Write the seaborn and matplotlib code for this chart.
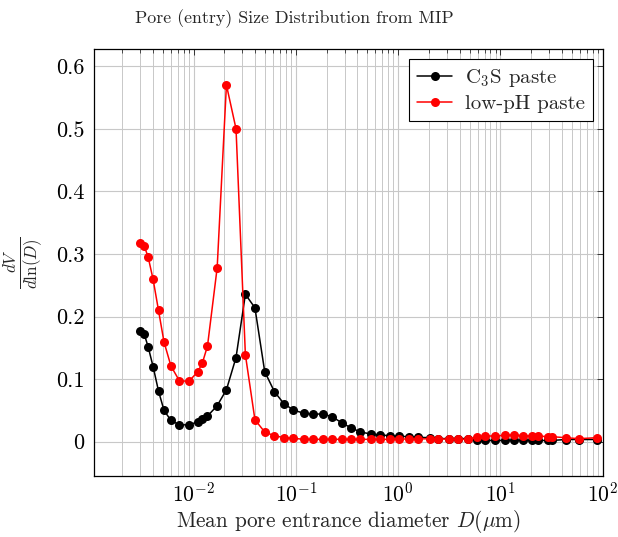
import numpy as np
import pandas as pd
import matplotlib
matplotlib.use("Agg")
import matplotlib.pyplot as plt
import matplotlib.ticker as mticker
import seaborn as sns

# pore entrance diameter D (um), shared by both samples
diameter = [0.00299, 0.00329, 0.00359, 0.00402, 0.00454, 0.00514, 0.00601, 0.00726,
            0.00899, 0.01094, 0.01216, 0.01368, 0.01701, 0.02095, 0.0260, 0.0321,
            0.0398, 0.0496, 0.0617, 0.0762, 0.0944, 0.120, 0.148, 0.184, 0.226,
            0.280, 0.347, 0.428, 0.542, 0.669, 0.825, 1.03, 1.28, 1.58, 2.05, 2.47,
            3.14, 3.81, 4.77, 5.88, 7.03, 8.80, 11.0, 13.5, 16.7, 20.6, 23.2, 29.5,
            31.8, 43.8, 58.2, 87.1]

c3s_paste = [0.177, 0.172, 0.152, 0.120, 0.081, 0.050, 0.034, 0.027, 0.027, 0.0315,
             0.036, 0.041, 0.0575, 0.083, 0.1345, 0.2355, 0.214, 0.112, 0.080, 0.061,
             0.0506, 0.0454, 0.0442, 0.0442, 0.040, 0.0304, 0.022, 0.0155, 0.0123,
             0.0107, 0.0096, 0.0086, 0.008, 0.007, 0.0064, 0.005, 0.005, 0.005, 0.005,
             0.002, 0.002, 0.002, 0.002, 0.002, 0.002, 0.002, 0.002, 0.002, 0.002,
             0.0035, 0.0035, 0.0035]

lowph_paste = [0.317, 0.3126, 0.2955, 0.2594, 0.2099, 0.1593, 0.1209, 0.0974, 0.0965,
               0.1113, 0.1252, 0.1529, 0.278, 0.570, 0.500, 0.139, 0.0351, 0.0155,
               0.0094, 0.0067, 0.0054, 0.0038, 0.0038, 0.0038, 0.0038, 0.0038, 0.0038,
               0.0038, 0.0038, 0.0038, 0.0038, 0.0043, 0.0043, 0.0043, 0.0048, 0.0048,
               0.0038, 0.0038, 0.0038, 0.007, 0.0091, 0.0091, 0.0102, 0.0107, 0.0096,
               0.0091, 0.0091, 0.008, 0.008, 0.0064, 0.0048, 0.0064]

labels = ["C$_3$S paste", "low-pH paste"]
colors = ["black", "red"]

df = pd.concat([
    pd.DataFrame({"D": diameter, "dV": c3s_paste, "sample": labels[0]}),
    pd.DataFrame({"D": diameter, "dV": lowph_paste, "sample": labels[1]}),
])

sns.set_style("white")
plt.rcParams["font.family"] = ["cmr10", "DejaVu Serif"]
plt.rcParams["mathtext.fontset"] = "cm"
plt.rcParams["axes.unicode_minus"] = False
plt.rcParams["axes.formatter.use_mathtext"] = True

fig = plt.figure(figsize=(6.18, 5.37), dpi=100)
ax = fig.add_axes([0.1526, 0.1136, 0.8226, 0.7946])

for lab, col in zip(labels, colors):
    sns.lineplot(data=df[df["sample"] == lab], x="D", y="dV", color=col, label=lab,
                 marker="o", markersize=6.5, markeredgecolor=col, markeredgewidth=0,
                 linewidth=1.1, estimator=None, sort=False, ax=ax)

ax.set_xscale("log")
ax.set_xlim(1.07e-3, 100)
ax.set_ylim(-0.0548, 0.627)
ax.set_yticks([0, 0.1, 0.2, 0.3, 0.4, 0.5, 0.6])
ax.yaxis.set_major_formatter(mticker.FuncFormatter(lambda v, p: "0" if abs(v) < 1e-9 else f"{v:.1f}"))
ax.xaxis.set_major_locator(mticker.LogLocator(base=10, numticks=20))
ax.xaxis.set_minor_locator(mticker.LogLocator(base=10, subs=np.arange(2, 10), numticks=20))
ax.xaxis.set_minor_formatter(mticker.NullFormatter())

ax.grid(True, which="major", color="#c8c8c8", linewidth=0.8)
ax.grid(True, which="minor", axis="x", color="#c8c8c8", linewidth=0.7)
ax.set_axisbelow(True)

ax.tick_params(which="both", direction="in", top=True, right=True,
               colors="#333333", labelcolor="black")
ax.tick_params(axis="y", labelsize=16, pad=7)
ax.tick_params(axis="x", labelsize=15.5, pad=4)
ax.tick_params(which="major", length=4.2, width=0.7)
ax.tick_params(which="minor", length=2.8, width=0.6)
for s in ax.spines.values():
    s.set_color("black")
    s.set_linewidth(0.9)

ax.set_xlabel(r"Mean pore entrance diameter $D(\mu\mathrm{m})$", fontsize=15.3, labelpad=2)
ax.set_ylabel(r"$\frac{dV}{d\ln(D)}$", fontsize=17.5, labelpad=7)
fig.text(0.476, 0.966, "Pore (entry) Size Distribution from MIP", ha="center", va="center",
         fontsize=12.9)

leg = ax.legend(loc="upper right", fontsize=15, frameon=True, fancybox=False,
                framealpha=1, edgecolor="black", borderaxespad=0.45, handlelength=1.7,
                borderpad=0.4, labelspacing=0.25, handletextpad=0.6)
leg.get_frame().set_linewidth(0.8)

fig.savefig("out.png", dpi=100)
